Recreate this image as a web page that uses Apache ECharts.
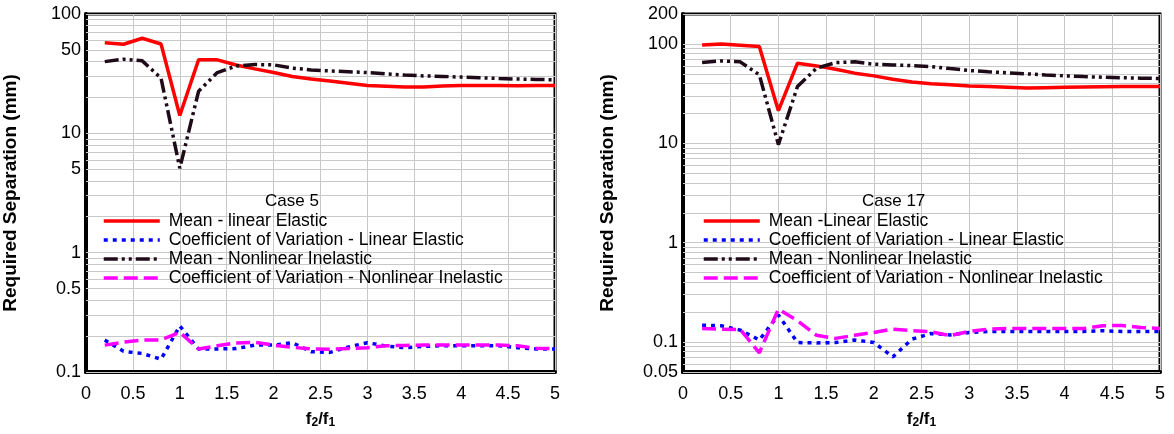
<!DOCTYPE html>
<html>
<head>
<meta charset="utf-8">
<script src="https://cdn.jsdelivr.net/npm/echarts@6/dist/echarts.min.js"></script>
<style>
  html, body { margin: 0; padding: 0; background: #fff; }
  #chart { width: 1174px; height: 434px; }
</style>
</head>
<body>
<div id="chart"></div>
<script>
// Frequency ratio f2/f1 sampled at every 0.2
const ratios = [0.2, 0.4, 0.6, 0.8, 1.0, 1.2, 1.4, 1.6, 1.8, 2.0, 2.2, 2.4, 2.6,
                2.8, 3.0, 3.2, 3.4, 3.6, 3.8, 4.0, 4.2, 4.4, 4.6, 4.8, 5.0];

// Case 5 (mm)
const case5MeanLE = [57.5, 55.8, 62.6, 56.1, 14.1, 41.3, 41.3, 37.4, 34.7, 32.3, 29.9, 28.5, 27.4,
                     26.3, 25.2, 24.8, 24.4, 24.5, 24.9, 25.2, 25.2, 25.2, 25.1, 25.2, 25.2];
const case5CovLE  = [0.185, 0.149, 0.143, 0.128, 0.243, 0.156, 0.156, 0.157, 0.168, 0.168, 0.176, 0.148, 0.146,
                     0.162, 0.176, 0.165, 0.160, 0.164, 0.166, 0.166, 0.166, 0.166, 0.160, 0.156, 0.156];
const case5MeanNI = [39.9, 41.8, 40.5, 29.0, 5.1, 22.5, 32.3, 36.7, 37.7, 37.5, 35.2, 34.0, 33.3,
                     32.8, 32.3, 31.5, 30.8, 30.3, 30.0, 29.6, 29.2, 28.8, 28.5, 28.3, 28.1];
const case5CovNI  = [0.168, 0.178, 0.185, 0.186, 0.215, 0.156, 0.166, 0.175, 0.177, 0.168, 0.161, 0.156, 0.155,
                     0.157, 0.160, 0.166, 0.167, 0.168, 0.168, 0.168, 0.168, 0.168, 0.166, 0.158, 0.157];

// Case 17 (mm)
const case17MeanLE = [97.7, 100, 97, 94, 21.3, 64, 60.1, 55.7, 50.8, 47.7, 44.2, 41.3, 39.7,
                      38.8, 37.8, 37.2, 36.6, 36.0, 36.3, 36.6, 36.9, 37.1, 37.2, 37.3, 37.3];
const case17CovLE  = [0.148, 0.146, 0.132, 0.105, 0.187, 0.099, 0.098, 0.099, 0.105, 0.099, 0.071, 0.107, 0.122,
                      0.118, 0.125, 0.128, 0.128, 0.128, 0.128, 0.128, 0.128, 0.130, 0.128, 0.128, 0.128];
const case17MeanNI = [64.9, 67.5, 66, 48.9, 9.7, 37.3, 57, 64.9, 66, 62.5, 61.5, 60.6, 59.2,
                      56.5, 54, 52.5, 51.2, 50, 48.8, 47.7, 46.9, 46.2, 45.7, 45.2, 44.9];
const case17CovNI  = [0.137, 0.135, 0.134, 0.078, 0.214, 0.164, 0.117, 0.109, 0.117, 0.125, 0.135, 0.130, 0.127,
                      0.116, 0.128, 0.135, 0.137, 0.137, 0.137, 0.137, 0.137, 0.146, 0.147, 0.140, 0.137];

// Axis tick labels
const leftTicks  = [0.1, 0.5, 1, 5, 10, 50, 100];
const rightTicks = [0.05, 0.1, 1, 10, 100, 200];

const leftNames  = ['Mean - linear Elastic', 'Coefficient of Variation - Linear Elastic',
                    'Mean - Nonlinear Inelastic', 'Coefficient of Variation - Nonlinear Inelastic'];
const rightNames = ['Mean -Linear Elastic', 'Coefficient of Variation - Linear Elastic',
                    'Mean - Nonlinear Inelastic', 'Coefficient of Variation - Nonlinear Inelastic'];

const FONT = "'Liberation Sans', Arial, sans-serif";

// Log-grid lines at 1..9 x 10^n inside [lo, hi]
function logGridValues(lo, hi) {
  const out = [];
  for (let e = -3; e <= 3; e++) {
    for (let m = 1; m <= 9; m++) {
      const v = +(m * Math.pow(10, e)).toPrecision(6);
      if (v >= lo * 0.9999 && v <= hi * 1.0001) out.push(v);
    }
  }
  return out;
}

const styles = [
  { color: '#ff0000', width: 3.5, type: 'solid' },
  { color: '#0000ff', width: 3.5, type: [4, 5] },
  { color: '#1e0a18', width: 3.5, type: [14, 4, 3, 4, 3, 4] },
  { color: '#ff00ff', width: 3.5, type: [14, 6] }
];

function pairs(ys) { return ratios.map((x, i) => [x, ys[i]]); }

function buildSeries(idx, names, arrays) {
  return arrays.map((arr, k) => ({
    type: 'line',
    name: names[k],
    xAxisIndex: idx, yAxisIndex: idx,
    data: pairs(arr),
    symbol: 'none',
    smooth: false,
    z: 5,
    lineStyle: { color: styles[k].color, width: styles[k].width, type: styles[k].type, cap: 'butt' },
    itemStyle: { color: styles[k].color },
    emphasis: { disabled: true }
  }));
}

function gridSeries(idx, lo, hi) {
  return {
    type: 'line',
    name: 'grid' + idx,
    xAxisIndex: idx, yAxisIndex: idx,
    data: [],
    z: 1,
    silent: true,
    markLine: {
      silent: true,
      symbol: 'none',
      animation: false,
      z: 1,
      label: { show: false },
      lineStyle: { color: '#c8c8c8', width: 1, type: 'solid' },
      emphasis: { disabled: true },
      data: logGridValues(lo, hi).map(v => ({ yAxis: v }))
    }
  };
}

function xAxis(idx) {
  return {
    type: 'value', gridIndex: idx, min: 0, max: 5, interval: 0.5,
    name: '{b|f}{s|2}{b|/f}{s|1}',
    nameLocation: 'middle', nameGap: 37,
    nameTextStyle: {
      rich: {
        b: { fontFamily: FONT, fontSize: 17, fontWeight: 'bold', color: '#000', lineHeight: 20 },
        s: { fontFamily: FONT, fontSize: 12, fontWeight: 'bold', color: '#000', verticalAlign: 'bottom', lineHeight: 14, padding: [8, 0, 0, 0] }
      }
    },
    axisLine: { show: true, onZero: false, lineStyle: { color: '#000', width: 4 } },
    axisTick: { show: false },
    axisLabel: { fontFamily: FONT, fontSize: 18, color: '#000', margin: 13 },
    splitLine: { show: true, lineStyle: { color: '#c8c8c8', width: 1 } }
  };
}

function yAxis(idx, lo, hi, ticks) {
  return {
    type: 'log', logBase: 10, gridIndex: idx, min: lo, max: hi,
    name: 'Required Separation (mm)',
    nameLocation: 'middle', nameGap: 66,
    nameTextStyle: { fontFamily: FONT, fontSize: 19, fontWeight: 'bold', color: '#000' },
    axisLine: { show: true, lineStyle: { color: '#000', width: 4 } },
    axisTick: { show: false },
    axisLabel: {
      fontFamily: FONT, fontSize: 18, color: '#000', margin: 5,
      customValues: ticks,
      formatter: v => String(+(+v).toPrecision(6))
    },
    splitLine: { show: false },
    minorSplitLine: { show: false }
  };
}

function legend(left, names) {
  return {
    orient: 'vertical', left: left, top: 212, padding: 0,
    z: 20,
    itemWidth: 56, itemHeight: 16, itemGap: 1,
    data: names,
    selectedMode: false,
    itemStyle: { opacity: 0 },
    lineStyle: { width: 3.5 },
    textStyle: { fontFamily: FONT, fontSize: 17.5, lineHeight: 18, color: '#000', padding: [0, 0, 0, 4] }
  };
}

const chart = echarts.init(document.getElementById('chart'), null, { renderer: 'canvas' });

chart.setOption({
  animation: false,
  backgroundColor: '#fff',
  grid: [
    { left: 84, top: 14, width: 471, height: 359, show: true, borderColor: '#000', borderWidth: 3, backgroundColor: '#fff' },
    { left: 683, top: 14, width: 477, height: 359, show: true, borderColor: '#000', borderWidth: 3, backgroundColor: '#fff' }
  ],
  title: [
    { text: 'Case 5', left: 265, top: 193, padding: 0, z: 20, textStyle: { fontFamily: FONT, fontSize: 17, fontWeight: 'normal', color: '#000' } },
    { text: 'Case 17', left: 862, top: 193, padding: 0, z: 20, textStyle: { fontFamily: FONT, fontSize: 17, fontWeight: 'normal', color: '#000' } }
  ],
  legend: [legend(102, leftNames), legend(702, rightNames)],
  xAxis: [xAxis(0), xAxis(1)],
  yAxis: [yAxis(0, 0.1, 100, leftTicks), yAxis(1, 0.05, 200, rightTicks)],
  series: [
    gridSeries(0, 0.1, 100),
    gridSeries(1, 0.05, 200),
    ...buildSeries(0, leftNames, [case5MeanLE, case5CovLE, case5MeanNI, case5CovNI]),
    ...buildSeries(1, rightNames, [case17MeanLE, case17CovLE, case17MeanNI, case17CovNI])
  ]
});
</script>
</body>
</html>
